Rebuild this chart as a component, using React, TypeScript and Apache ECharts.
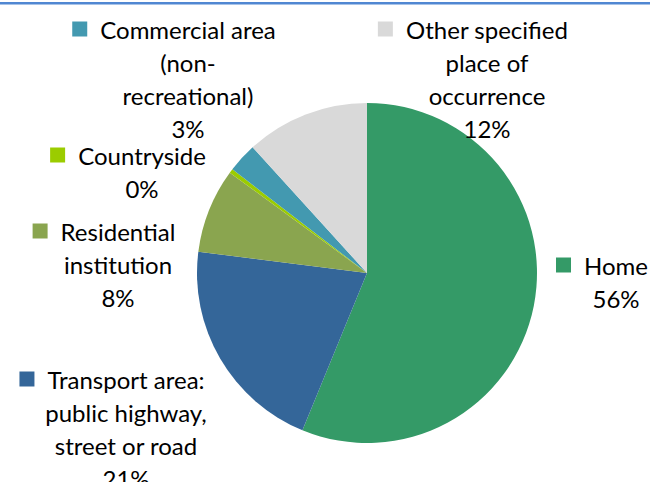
import React, { useEffect, useRef } from "react";
import * as echarts from "echarts";

// Categories (clockwise from 12 o'clock) and their shares (%)
const categories = [
  "Home",
  "Transport area: public highway, street or road",
  "Residential institution",
  "Countryside",
  "Commercial area (non-recreational)",
  "Other specified place of occurrence",
];
const shares = [56.2, 20.8, 8.05, 0.4, 2.8, 11.75];

// How each label is wrapped (text only)
const labelLines = [
  ["Home"],
  ["Transport area:", "public highway,", "street or road"],
  ["Residential", "institution"],
  ["Countryside"],
  ["Commercial area", "(non-", "recreational)"],
  ["Other specified", "place of", "occurrence"],
];

// Styling
const colors = ["#349a67", "#346699", "#8aa54f", "#9bcc00", "#4399b0", "#d9d9d9"];
// label block anchor: text centre x, centre y of first line
const labelAnchors = [
  [616, 265],
  [126, 379],
  [118, 231],
  [142, 155],
  [188, 29],
  [487, 29],
];

const FONT = "Lato";
const FS = 24;
const LH = 33;
const MARK = 15;
const GAP = 13;

export default function App() {
  const ref = useRef<HTMLDivElement>(null);
  useEffect(() => {
    document.body.style.margin = "0";
    const chart = echarts.init(ref.current!, null, { renderer: "svg" });
    const rich: any = {
      t: { fontFamily: FONT, fontSize: FS, lineHeight: LH, color: "#000" },
      gap: { width: GAP, height: MARK },
      pad: { width: MARK + GAP, height: MARK },
    };
    colors.forEach((c, i) => {
      rich["m" + i] = { width: MARK, height: MARK, backgroundColor: c };
    });
    chart.setOption({
      animation: false,
      backgroundColor: "#fff",
      graphic: [
        {
          type: "rect",
          shape: { x: 0, y: 2, width: 650, height: 2.5 },
          style: { fill: "#5087d2" },
          silent: true,
        },
      ],
      series: [
        {
          type: "pie",
          center: [367, 273],
          radius: 170,
          startAngle: 90,
          clockwise: true,
          avoidLabelOverlap: false,
          itemStyle: { borderWidth: 0 },
          labelLine: { show: false },
          label: {
            show: true,
            position: "outside",
            align: "center",
            fontFamily: FONT,
            fontSize: FS,
            lineHeight: LH,
            color: "#000",
            rich,
            formatter: (p: any) => {
              const i = p.dataIndex;
              const lines = labelLines[i];
              const out: string[] = [];
              out.push(`{m${i}|}{gap|}{t|${lines[0]}}{pad|}`);
              for (let k = 1; k < lines.length; k++) out.push(`{t|${lines[k]}}`);
              out.push(`{t|${Math.round(p.percent)}%}`);
              return out.join("\n");
            },
          },
          labelLayout: (params: any) => {
            const a = labelAnchors[params.dataIndex];
            return {
              x: a[0],
              y: a[1] - LH / 2,
              align: "center",
              verticalAlign: "top",
            };
          },
          data: categories.map((name, i) => ({
            name,
            value: shares[i],
            itemStyle: { color: colors[i] },
          })),
        },
      ],
    });
    return () => chart.dispose();
  }, []);
  return <div ref={ref} style={{ width: 650, height: 482 }} />;
}
